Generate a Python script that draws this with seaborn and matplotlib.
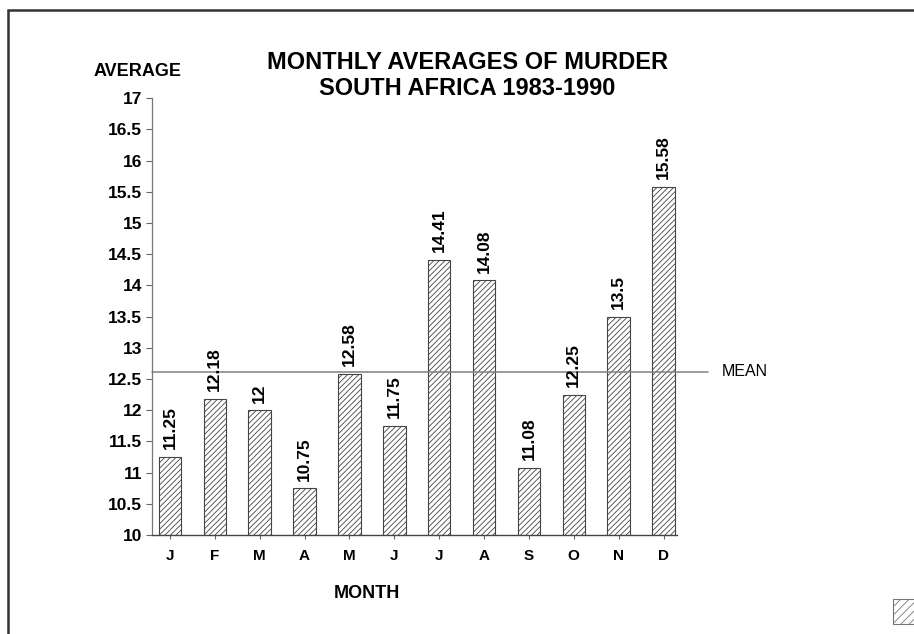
import numpy as np
import pandas as pd
import matplotlib
matplotlib.use('Agg')
import matplotlib.pyplot as plt
import seaborn as sns
from matplotlib.patches import Rectangle

months = ['Jan', 'Feb', 'Mar', 'Apr', 'May', 'Jun',
          'Jul', 'Aug', 'Sep', 'Oct', 'Nov', 'Dec']
month_ticks = ['J', 'F', 'M', 'A', 'M', 'J', 'J', 'A', 'S', 'O', 'N', 'D']
averages = [11.25, 12.18, 12, 10.75, 12.58, 11.75,
            14.41, 14.08, 11.08, 12.25, 13.5, 15.58]
bar_labels = ['11.25', '12.18', '12', '10.75', '12.58', '11.75',
              '14.41', '14.08', '11.08', '12.25', '13.5', '15.58']
y_ticks = [10, 10.5, 11, 11.5, 12, 12.5, 13, 13.5, 14, 14.5, 15, 15.5, 16, 16.5, 17]

df = pd.DataFrame({'month': months, 'avg': averages})
mean_val = np.mean(averages)

sns.set_style('white')
plt.rcParams['font.family'] = ['Liberation Sans', 'DejaVu Sans']
plt.rcParams['hatch.linewidth'] = 0.6
plt.rcParams['text.color'] = 'black'
plt.rcParams['axes.labelcolor'] = 'black'
plt.rcParams['xtick.color'] = 'black'
plt.rcParams['ytick.color'] = 'black'

fig = plt.figure(figsize=(9.14, 6.34), dpi=100)
ax = fig.add_axes([0.1663, 0.1562, 0.5744, 0.689])

sns.barplot(data=df, x='month', y='avg', order=months, color='white',
            edgecolor='#444444', linewidth=0.8, hatch='//////', width=0.5,
            ax=ax)
for p in ax.patches:
    p.set_facecolor('white')
    p.set_edgecolor('#444444')

ax.set_ylim(10, 17)
ax.set_xlim(-0.4, 11.3)
ax.set_yticks(y_ticks)
ax.set_yticklabels([('%g' % t) for t in y_ticks], fontsize=12.5, fontweight='bold')
ax.set_xticks(range(len(months)))
ax.set_xticklabels(month_ticks, fontsize=11, fontweight='bold')
ax.tick_params(axis='y', which='major', direction='out', length=4, width=0.8,
               color='#666666', labelcolor='black', left=True, pad=3)
ax.tick_params(axis='x', which='major', direction='out', length=3, width=0.8,
               color='#666666', labelcolor='black', bottom=True, pad=7)
sns.despine(ax=ax)
ax.spines['left'].set_color('#777777')
ax.spines['left'].set_linewidth(0.9)
ax.spines['bottom'].set_color('#444444')
ax.spines['bottom'].set_linewidth(1.0)
ax.set_xlabel('MONTH', fontsize=13, fontweight='bold', labelpad=16)
ax.xaxis.label.set_x(0.41)
ax.set_ylabel('')

# bar value labels
for i, (v, lab) in enumerate(zip(averages, bar_labels)):
    ax.text(i, v + 0.12, lab, rotation=90, ha='center', va='bottom',
            fontsize=12.5, fontweight='bold')

# mean line extending past the axes
ax.axhline(mean_val, xmin=0, xmax=1.06, color='#808080', lw=1.1, clip_on=False)
ax.text(1.085, mean_val, 'MEAN', transform=ax.get_yaxis_transform(),
        va='center', ha='left', fontsize=11.5)

fig.text(0.151, 0.888, 'AVERAGE', ha='center', va='center',
         fontsize=13, fontweight='bold')
fig.text(0.511, 0.902, 'MONTHLY AVERAGES OF MURDER', ha='center', va='center',
         fontsize=17, fontweight='bold')
fig.text(0.511, 0.860, 'SOUTH AFRICA 1983-1990', ha='center', va='center',
         fontsize=17, fontweight='bold')

# outer frame
fig.patches.append(Rectangle((0.009, -0.05), 1.05, 1.034, transform=fig.transFigure,
                             fill=False, edgecolor='#333333', lw=1.8, clip_on=False))
# legend swatch fragment at bottom right
fig.patches.append(Rectangle((0.977, 0.015), 0.03, 0.04, transform=fig.transFigure,
                             facecolor='white', edgecolor='#777777', hatch='////',
                             lw=0.8, clip_on=False))

fig.savefig('out.png', dpi=100)
